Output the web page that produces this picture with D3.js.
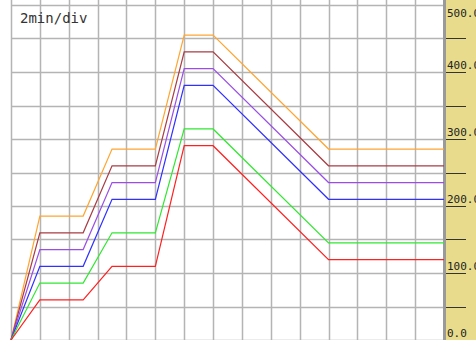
<!DOCTYPE html>
<html><head><meta charset="utf-8">
<script src="https://cdn.jsdelivr.net/npm/d3@7"></script>
<style>html,body{margin:0;padding:0;background:#fff;overflow:hidden}</style>
</head><body>
<svg id="c" width="476" height="340"></svg>
<script>
// time in minutes (2 min per division)
const times = [0, 2, 5, 7, 10, 12, 14, 22, 30];
const seriesNames = ["orange", "brown", "purple", "blue", "green", "red"];
const orangeVals = [0, 185, 185, 285, 285, 455, 455, 285, 285];
const brownVals  = [0, 160, 160, 260, 260, 430, 430, 260, 260];
const purpleVals = [0, 135, 135, 235, 235, 405, 405, 235, 235];
const blueVals   = [0, 110, 110, 210, 210, 380, 380, 210, 210];
const greenVals  = [0, 85, 85, 160, 160, 315, 315, 145, 145];
const redVals    = [0, 60, 60, 110, 110, 290, 290, 120, 120];
const seriesColors = ["#ffa530", "#a83c44", "#9a4ee6", "#3030ff", "#30e830", "#ff2020"];
const yTickValues = [50, 100, 150, 200, 250, 300, 350, 400, 450];
const yLabelValues = [0, 100, 200, 300, 400, 500];
const xGridValues = d3.range(0, 31, 2);
const yGridValues = d3.range(0, 501, 50);
const divLabel = "2min/div";

const allVals = [orangeVals, brownVals, purpleVals, blueVals, greenVals, redVals];

const svg = d3.select("#c");
const x = d3.scaleLinear().domain([0, 30]).range([11, 444]);
const y = d3.scaleLinear().domain([0, 500]).range([340, 5]);

// grid
svg.append("g").selectAll("line").data(xGridValues).join("line")
  .attr("x1", d => Math.round(x(d)) + 0.5).attr("x2", d => Math.round(x(d)) + 0.5)
  .attr("y1", 0).attr("y2", 340)
  .attr("stroke", "#b4b4b4").attr("stroke-width", 1.5);
svg.append("g").selectAll("line").data(yGridValues).join("line")
  .attr("x1", 11).attr("x2", 444)
  .attr("y1", d => Math.round(y(d)) + 0.5).attr("y2", d => Math.round(y(d)) + 0.5)
  .attr("stroke", "#b4b4b4").attr("stroke-width", 1.5);

// right panel
svg.append("rect").attr("x", 446).attr("y", 0).attr("width", 30).attr("height", 340).attr("fill", "#e8dc8c");
svg.append("rect").attr("x", 443).attr("y", 0).attr("width", 3).attr("height", 340).attr("fill", "#9a9a9a");

svg.append("g").selectAll("line").data(yTickValues).join("line")
  .attr("x1", 446).attr("x2", 466)
  .attr("y1", d => Math.round(y(d)) + 0.5).attr("y2", d => Math.round(y(d)) + 0.5)
  .attr("stroke", "#333").attr("stroke-width", 1);

svg.append("g").selectAll("text").data(yLabelValues).join("text")
  .attr("x", 447)
  .attr("y", d => Math.max(17, Math.min(339, y(d) - 3)))
  .attr("font-family", "DejaVu Sans Mono, monospace")
  .attr("font-size", 11)
  .attr("fill", "#222")
  .text(d => d.toFixed(1));

// series
const line = d3.line().x((d, i) => x(times[i])).y(d => y(d));
svg.append("g").selectAll("path").data(allVals).join("path")
  .attr("d", d => line(d))
  .attr("fill", "none")
  .attr("stroke", (d, i) => seriesColors[i])
  .attr("stroke-width", 1.2);

svg.append("text").attr("x", 20).attr("y", 23)
  .attr("font-family", "DejaVu Sans Mono, monospace")
  .attr("font-size", 14).attr("fill", "#333")
  .text(divLabel);
</script>
</body></html>
